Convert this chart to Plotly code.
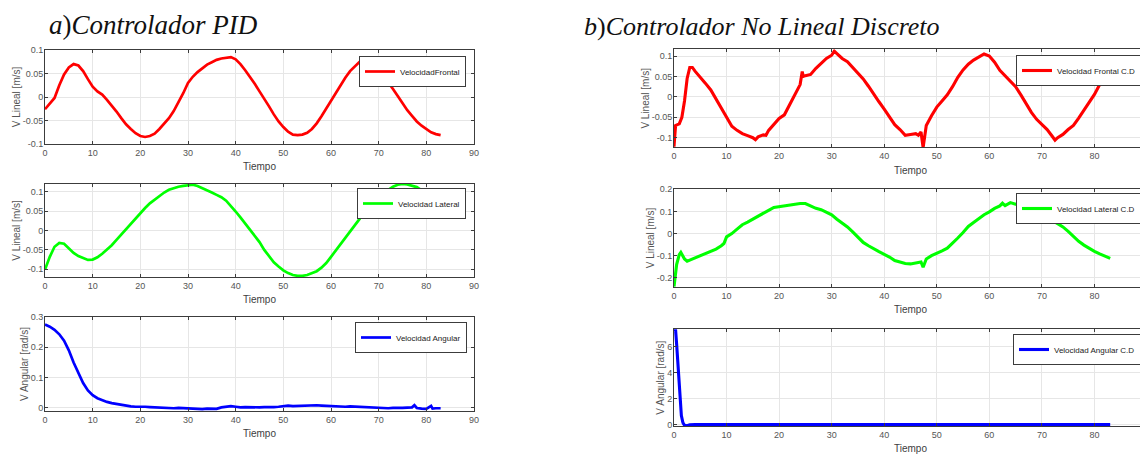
import plotly.graph_objects as go

# ---------------- data ----------------
t_pid = [0, 1, 2, 3, 4, 5, 6, 7, 8, 9, 10, 11, 12, 13, 14, 15, 16, 17, 18, 19, 20,
         21, 22, 23, 24, 25, 26, 27, 28, 29, 30, 31, 32, 33, 34, 35, 36, 37, 38, 39, 40,
         41, 42, 43, 44, 45, 46, 47, 48, 49, 50, 51, 52, 53, 54, 55, 56, 57, 58, 59, 60,
         61, 62, 63, 64, 65, 66, 67, 68, 69, 70, 71, 72, 73, 74, 75, 76, 77, 78, 79, 80,
         81, 82, 83]

v_frontal_pid = [-0.026, -0.015, -0.002, 0.025, 0.048, 0.063, 0.070, 0.067, 0.055, 0.038, 0.022,
                 0.012, 0.005, -0.006, -0.018, -0.031, -0.045, -0.058, -0.068, -0.077, -0.083,
                 -0.085, -0.083, -0.078, -0.068, -0.057, -0.045, -0.030, -0.012, 0.008, 0.030,
                 0.043, 0.053, 0.062, 0.069, 0.074, 0.079, 0.082, 0.084, 0.085, 0.080,
                 0.070, 0.057, 0.043, 0.028, 0.012, -0.003, -0.020, -0.037, -0.052, -0.064,
                 -0.074, -0.080, -0.081, -0.080, -0.076, -0.068, -0.056, -0.041, -0.025, -0.008,
                 0.010, 0.026, 0.041, 0.055, 0.066, 0.075, 0.081, 0.083, 0.078, 0.064,
                 0.045, 0.032, 0.017, 0.002, -0.013, -0.028, -0.040, -0.052, -0.061, -0.068,
                 -0.075, -0.079, -0.081]

v_lateral_pid = [-0.101, -0.068, -0.042, -0.032, -0.034, -0.046, -0.058, -0.066, -0.072, -0.076, -0.075,
                 -0.069, -0.060, -0.050, -0.038, -0.024, -0.010, 0.003, 0.017, 0.032, 0.046,
                 0.058, 0.070, 0.080, 0.090, 0.098, 0.105, 0.110, 0.113, 0.115, 0.117,
                 0.118, 0.115, 0.110, 0.104, 0.098, 0.092, 0.086, 0.077, 0.064, 0.049,
                 0.034, 0.018, 0.003, -0.012, -0.030, -0.050, -0.067, -0.082, -0.093, -0.103,
                 -0.110, -0.115, -0.117, -0.117, -0.115, -0.111, -0.105, -0.096, -0.084, -0.068,
                 -0.052, -0.037, -0.020, -0.003, 0.014, 0.030, 0.050, 0.065, 0.077, 0.088,
                 0.097, 0.106, 0.113, 0.118, 0.120, 0.119, 0.116, 0.112, 0.104, 0.093,
                 0.080, 0.066, 0.053]

t_ang_pid = [0, 1, 2, 3, 4, 5, 6, 7, 8, 9, 10, 11, 12, 13, 14, 15, 16, 17, 18, 19, 20,
             21, 22, 23, 24, 25, 26, 27, 28, 29, 30, 31, 32, 33, 34, 35, 36, 37, 38, 39, 40,
             41, 42, 43, 44, 45, 46, 47, 48, 49, 50, 51, 52, 53, 54, 55, 56, 57, 58, 59, 60,
             61, 62, 63, 64, 65, 66, 67, 68, 69, 70, 71, 72, 73, 74, 75, 76, 77, 77.5, 78,
             79, 80, 81, 81.3, 82, 83]
v_angular_pid = [0.275, 0.268, 0.258, 0.243, 0.222, 0.190, 0.150, 0.115, 0.082, 0.058, 0.042,
                 0.032, 0.025, 0.020, 0.016, 0.013, 0.010, 0.007, 0.005, 0.004, 0.005,
                 0.004, 0.003, 0.002, 0.001, 0.001, 0.000, -0.001, 0.000, -0.001, 0.000,
                 -0.001, -0.003, -0.004, -0.002, -0.002, -0.003, 0.002, 0.005, 0.006, 0.004,
                 0.002, 0.003, 0.002, 0.003, 0.002, 0.003, 0.002, 0.003, 0.004, 0.006,
                 0.008, 0.006, 0.007, 0.006, 0.007, 0.008, 0.009, 0.008, 0.007, 0.005,
                 0.006, 0.005, 0.004, 0.005, 0.004, 0.003, 0.004, 0.003, 0.002, 0.001,
                 0.000, -0.001, 0.000, -0.001, 0.000, 0.001, 0.002, 0.009, 0.000,
                 -0.002, -0.003, 0.007, -0.002, -0.001, -0.001]

t_frontal_cd = [0, 0.3, 1, 1.5, 2, 2.5, 3, 3.5, 4, 5, 6, 7, 8, 9, 10, 11, 12, 13, 14, 15, 15.5,
                16, 17, 17.5, 18, 19, 20, 21, 22, 23, 24, 24.4, 24.6, 25, 26, 27, 28, 29, 30,
                30.5, 31, 32, 33, 34, 35, 36, 37, 38, 39, 40, 41, 42, 43, 44, 45, 46, 46.5,
                47, 47.4, 47.8, 48, 49, 50, 51, 52, 53, 54, 55, 56, 57, 58, 59, 60, 61, 62,
                63, 64, 65, 66, 67, 68, 69, 70, 71, 72, 72.5, 73, 74, 75, 76, 77, 78, 79, 80,
                81, 82, 83]
v_frontal_cd = [-0.122, -0.070, -0.066, -0.050, -0.010, 0.045, 0.072, 0.072, 0.063, 0.049, 0.033,
                0.017, -0.005, -0.030, -0.050, -0.072, -0.082, -0.090, -0.095, -0.100, -0.105,
                -0.098, -0.093, -0.094, -0.082, -0.068, -0.053, -0.044, -0.020, 0.005, 0.030,
                0.062, 0.050, 0.052, 0.055, 0.070, 0.083, 0.094, 0.102,
                0.112, 0.106, 0.094, 0.086, 0.072, 0.058, 0.044, 0.026, 0.006, -0.012,
                -0.030, -0.050, -0.068, -0.080, -0.094, -0.092, -0.090, -0.094,
                -0.086, -0.124, -0.085, -0.070, -0.046, -0.025, -0.010, 0.005, 0.025, 0.048,
                0.066, 0.080, 0.090, 0.098, 0.105, 0.100, 0.085, 0.065,
                0.052, 0.038, 0.025, 0.005, -0.017, -0.038, -0.055, -0.068, -0.080, -0.097,
                -0.106, -0.100, -0.092, -0.080, -0.070, -0.052, -0.032, -0.012, 0.006,
                0.030, 0.052, 0.074]

t_lateral_cd = [0, 0.5, 1, 1.3, 2, 2.5, 3, 4, 5, 6, 7, 8, 9, 9.5, 10, 11, 12, 13, 14, 15, 16,
                17, 18, 19, 20, 21, 22, 23, 24, 25, 26, 27, 28, 29, 30, 31, 32, 33, 34, 35,
                36, 37, 38, 39, 40, 41, 42, 43, 44, 45, 46, 47, 47.4, 48, 49, 50, 51, 52, 53,
                54, 55, 56, 57, 58, 59, 60, 61, 62, 62.5, 63, 64, 65, 66, 67, 68, 69, 70, 71,
                72, 73, 74, 75, 76, 77, 78, 79, 80, 81, 82, 83]
v_lateral_cd = [-0.240, -0.140, -0.095, -0.085, -0.115, -0.125, -0.120, -0.110, -0.100, -0.090,
                -0.080, -0.070, -0.055, -0.045, -0.015, 0.000, 0.020, 0.040, 0.052, 0.066, 0.078,
                0.090, 0.105, 0.118, 0.122, 0.126, 0.128, 0.133, 0.136, 0.136, 0.125, 0.114,
                0.108, 0.098, 0.085, 0.065, 0.048, 0.030, 0.008, -0.015,
                -0.040, -0.055, -0.070, -0.082, -0.094, -0.106, -0.122, -0.130, -0.135, -0.137,
                -0.132, -0.128, -0.152, -0.115, -0.100, -0.090, -0.078, -0.066, -0.045,
                -0.020, 0.005, 0.032, 0.050, 0.068, 0.085, 0.098, 0.114, 0.125, 0.137, 0.126,
                0.140, 0.133, 0.130, 0.125, 0.115, 0.108, 0.098, 0.080,
                0.058, 0.045, 0.030, 0.010, -0.015, -0.035, -0.052, -0.068, -0.080, -0.092,
                -0.103, -0.112]

t_angular_cd = [0, 0.3, 0.5, 0.8, 1.1, 1.4, 1.7, 2.0, 2.5, 3, 4, 5, 10, 15, 20, 25, 30, 35,
                40, 45, 50, 55, 60, 65, 70, 75, 80, 83]
v_angular_cd = [7.34, 7.30, 6.20, 4.20, 2.10, 0.70, 0.15, -0.05, -0.08, 0.00, 0.02, 0.02, 0.02,
                0.01, 0.02, 0.01, 0.02, 0.02, 0.03, 0.02, 0.02, 0.01, 0.02, 0.02, 0.02, 0.01,
                0.02, 0.02]

names = ["VelocidadFrontal", "Velocidad Lateral", "Velocidad Angular",
         "Velocidad Frontal C.D", "Velocidad Lateral C.D", "Velocidad Angular C.D"]
y_titles = ["V Lineal [m/s]", "V Lineal [m/s]", "V Angular [rad/s]",
            "V Lineal [m/s]", "V Lineal [m/s]", "V Angular [rad/s]"]
x_title = "Tiempo"
x_ticks = [0, 10, 20, 30, 40, 50, 60, 70, 80, 90]
y_tickvals = [[-0.1, -0.05, 0, 0.05, 0.1], [-0.1, -0.05, 0, 0.05, 0.1], [0, 0.1, 0.2, 0.3],
              [-0.1, -0.05, 0, 0.05, 0.1], [-0.2, -0.1, 0, 0.1, 0.2], [0, 2, 4, 6]]
y_ticktext = [["-0.1", "-0.05", "0", "0.05", "0.1"], ["-0.1", "-0.05", "0", "0.05", "0.1"],
              ["0", "0.1", "0.2", "0.3"], ["-0.1", "-0.05", "0", "0.05", "0.1"],
              ["-0.2", "-0.1", "0", "0.1", "0.2"], ["0", "2", "4", "6"]]
y_ranges = [[-0.1, 0.1], [-0.12, 0.12], [-0.01, 0.3],
            [-0.1235, 0.1165], [-0.24, 0.2], [-0.1, 7.34]]
title_a = "<i>a</i>)<i>Controlador PID</i>"
title_b = "<i>b</i>)<i>Controlador No Lineal Discreto</i>"

series_t = [t_pid, t_pid, t_ang_pid, t_frontal_cd, t_lateral_cd, t_angular_cd]
series_v = [v_frontal_pid, v_lateral_pid, v_angular_pid, v_frontal_cd, v_lateral_cd, v_angular_cd]

# ---------------- layout geometry (page pixels) ----------------
PAGE_W, PAGE_H = 1148, 454
OFF = 8  # default body margin of the html page
W, H = PAGE_W - OFF, PAGE_H - OFF


def px(v):
    return v - OFF


# (left, right, top, bottom) of each axes box in page pixels
boxes = [(45, 474, 50, 144), (45, 474, 184, 277), (45, 474, 317, 411),
         (674, 1147, 49.3, 147.3), (674, 1147, 189.3, 286.7), (674, 1147, 329.3, 426)]
# legend (right, top) in page pixels
leg_pos = [(466, 56), (466, 188), (467, 322), (1142, 55), (1141, 193), (1141, 334)]
colors = ["#ff0000", "#00ff00", "#0000ff", "#ff0000", "#00ff00", "#0000ff"]
widths = [2.7, 2.7, 2.7, 3.1, 3.1, 3.1]

FONT = "Liberation Sans, Arial, sans-serif"
fig = go.Figure()
layout = dict(template="none", width=W, height=H,
              margin=dict(l=0, r=0, t=0, b=0, pad=0, autoexpand=False),
              paper_bgcolor="white", plot_bgcolor="white", showlegend=True,
              font=dict(family=FONT, color="#4d4d4d"))

for i in range(6):
    ax = "" if i == 0 else str(i + 1)
    lg = "legend" if i == 0 else "legend" + str(i + 1)
    fig.add_trace(go.Scatter(x=series_t[i], y=series_v[i], mode="lines", name=names[i],
                             line=dict(color=colors[i], width=widths[i]),
                             xaxis="x" + ax, yaxis="y" + ax, legend=lg))
    l, r, t, b = [px(v) for v in boxes[i]]
    common = dict(showline=True, linecolor="#3c3c3c", linewidth=1, mirror="ticks",
                  ticks="inside", ticklen=3, tickcolor="#3c3c3c", automargin=False,
                  showgrid=True, gridcolor="#e6e6e6", gridwidth=1, zeroline=False,
                  tickfont=dict(size=9, color="#555555", family=FONT))
    layout["xaxis" + ax] = dict(common, domain=[l / W, min(r / W, 1)], range=[0, 90],
                                tickvals=x_ticks, anchor="y" + ax,
                                title=dict(text=x_title, standoff=6,
                                           font=dict(size=10, color="#404040")))
    layout["yaxis" + ax] = dict(common, domain=[1 - b / H, 1 - t / H], range=y_ranges[i],
                                tickvals=y_tickvals[i], ticktext=y_ticktext[i],
                                anchor="x" + ax, ticklabelstandoff=-1,
                                title=dict(text=y_titles[i], standoff=0,
                                           font=dict(size=10, color="#555555")))
    lx, ly = leg_pos[i]
    layout[lg] = dict(x=px(lx) / W, y=1 - px(ly) / H, xanchor="right", yanchor="top",
                      xref="paper", yref="paper",
                      bgcolor="white", bordercolor="#3c3c3c", borderwidth=1,
                      font=dict(size=8, color="#222222", family=FONT),
                      itemwidth=30, tracegroupgap=0)

TITLE_A_FONT = dict(family="Liberation Serif, Times New Roman, serif", size=27, color="#111111")
TITLE_B_FONT = dict(family="Liberation Serif, Times New Roman, serif", size=26, color="#111111")
layout["annotations"] = [
    dict(text=title_a, x=px(47) / W, y=1 - px(25) / H, xref="paper", yref="paper",
         xanchor="left", yanchor="middle", showarrow=False, font=TITLE_A_FONT),
    dict(text=title_b, x=px(582) / W, y=1 - px(26) / H, xref="paper", yref="paper",
         xanchor="left", yanchor="middle", showarrow=False, font=TITLE_B_FONT),
]
fig.update_layout(**layout)
fig.write_html("out.html")
